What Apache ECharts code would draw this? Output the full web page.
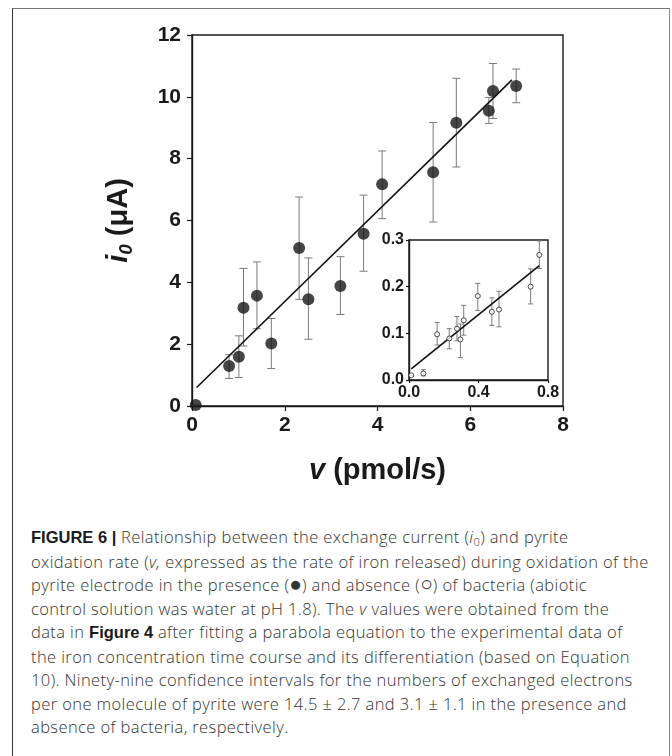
<!DOCTYPE html>
<html>
<head>
<meta charset="utf-8">
<script src="https://cdn.jsdelivr.net/npm/echarts@6/dist/echarts.min.js"></script>
<style>
  html, body { margin: 0; padding: 0; background: #fff; }
  body { width: 672px; height: 756px; position: relative; overflow: hidden; }
  #frame {
    position: absolute; left: 12px; top: 8px; width: 656px; height: 760px;
    border-left: 1.5px solid #333; border-top: 1px solid #777; border-right: 1px solid #888;
  }
  #chart { position: absolute; left: 0; top: 0; width: 672px; height: 505px; }
  #caption {
    position: absolute; left: 31px; top: 525px; width: 640px;
    font-family: "Open Sans", "Liberation Sans", Arial, sans-serif; font-weight: 300; font-size: 16.5px;
    letter-spacing: 0.4px; line-height: 23.5px; color: #333; white-space: nowrap;
  }
  #caption b { color: #1a1a1a; font-family: "Liberation Sans", Arial, sans-serif; font-weight: bold; letter-spacing: 0; }
  #caption sub { font-size: 11px; line-height: 0; vertical-align: -3px; }
  #caption .sym { font-family: "DejaVu Sans", sans-serif; font-size: 21px; line-height: 0; letter-spacing: 0; }
</style>
</head>
<body>
<div id="frame"></div>
<div id="chart"></div>
<div id="caption">
<b>FIGURE 6 |</b> Relationship between the exchange current (<i>i</i><sub>0</sub>) and pyrite<br>
oxidation rate (<i>v,</i> expressed as the rate of iron released) during oxidation of the<br>
pyrite electrode in the presence (<span class="sym">●</span>) and absence (<span class="sym">○</span>) of bacteria (abiotic<br>
control solution was water at pH 1.8). The <i>v</i> values were obtained from the<br>
data in <b>Figure 4</b> after fitting a parabola equation to the experimental data of<br>
the iron concentration time course and its differentiation (based on Equation<br>
10). Ninety-nine confidence intervals for the numbers of exchanged electrons<br>
per one molecule of pyrite were 14.5 ± 2.7 and 3.1 ± 1.1 in the presence and<br>
absence of bacteria, respectively.
</div>
<script>
// 有细菌 (实心点)
var mainV = [0.08, 0.80, 1.01, 1.11, 1.40, 1.71, 2.31, 2.51, 3.20, 3.70, 4.10, 5.20, 5.70, 6.40, 6.49, 6.99]
var mainI = [0.03, 1.29, 1.59, 3.18, 3.57, 2.02, 5.11, 3.45, 3.88, 5.57, 7.17, 7.56, 9.16, 9.55, 10.19, 10.35]
var mainLo = [0.03, 0.89, 0.92, 1.94, 2.50, 1.21, 3.45, 2.16, 2.96, 4.36, 6.06, 5.95, 7.73, 9.14, 9.30, 9.81]
var mainHi = [0.03, 1.66, 2.27, 4.45, 4.66, 2.83, 6.76, 4.79, 4.83, 6.82, 8.25, 9.17, 10.60, 9.98, 11.08, 10.90]
var mainFitV = [0.1, 6.9]
var mainFitI = [0.6, 10.55]

// 无细菌 (空心点, 小图)
var insetV = [0.013, 0.083, 0.162, 0.232, 0.276, 0.296, 0.315, 0.396, 0.477, 0.518, 0.700, 0.750]
var insetI = [0.010, 0.014, 0.098, 0.089, 0.110, 0.087, 0.128, 0.180, 0.146, 0.151, 0.200, 0.268]
var insetLo = [0.010, 0.009, 0.075, 0.067, 0.084, 0.048, 0.096, 0.149, 0.117, 0.114, 0.163, 0.239]
var insetHi = [0.010, 0.022, 0.123, 0.110, 0.136, 0.120, 0.160, 0.207, 0.176, 0.190, 0.238, 0.298]
var insetFitV = [0.013, 0.75]
var insetFitI = [0.024, 0.245]

// 坐标轴刻度
var mainXTicks = [0, 8, 2]
var mainYTicks = [0, 12, 2]
var insetXTicks = [0, 0.8, 0.4]
var insetYTicks = [0, 0.3, 0.1]

function pairs (xs, ys) {
  return xs.map(function (x, i) { return [x, ys[i]] })
}
function triples (xs, lo, hi) {
  return xs.map(function (x, i) { return [x, lo[i], hi[i]] })
}

// 误差棒
function errorBar (capHalf) {
  return function (params, api) {
    var x = api.value(0)
    var lo = api.coord([x, api.value(1)])
    var hi = api.coord([x, api.value(2)])
    var style = { stroke: '#7a7a7a', lineWidth: 1 }
    return {
      type: 'group',
      children: [
        { type: 'line', shape: { x1: lo[0], y1: lo[1], x2: hi[0], y2: hi[1] }, style: style },
        { type: 'line', shape: { x1: hi[0] - capHalf, y1: hi[1], x2: hi[0] + capHalf, y2: hi[1] }, style: style },
        { type: 'line', shape: { x1: lo[0] - capHalf, y1: lo[1], x2: lo[0] + capHalf, y2: lo[1] }, style: style }
      ]
    }
  }
}

var fontFam = '"Liberation Sans", Arial, sans-serif'

function axis (ticks, idx, labelSize, margin, decimals, extra) {
  var a = {
    type: 'value',
    gridIndex: idx,
    min: ticks[0],
    max: ticks[1],
    interval: ticks[2],
    splitLine: { show: false },
    axisLine: { show: true, onZero: false, lineStyle: { color: '#1a1a1a', width: 1.4 } },
    axisTick: { show: true, inside: false, length: idx === 0 ? 5 : 3, lineStyle: { color: '#1a1a1a', width: 1.2 } },
    axisLabel: {
      show: true,
      margin: margin,
      color: '#1a1a1a',
      fontFamily: fontFam,
      fontWeight: 'bold',
      fontSize: labelSize,
      formatter: function (v) { return decimals ? v.toFixed(decimals) : String(v) }
    }
  }
  return Object.assign(a, extra || {})
}

var chart = echarts.init(document.getElementById('chart'))
chart.setOption({
  animation: false,
  backgroundColor: 'transparent',
  grid: [
    { left: 192, top: 35, width: 371, height: 371, show: true, borderColor: '#1a1a1a', borderWidth: 1.4, backgroundColor: 'transparent' },
    { left: 409, top: 240, width: 139, height: 140, show: true, borderColor: '#1a1a1a', borderWidth: 1.4, backgroundColor: '#fff' }
  ],
  xAxis: [
    axis(mainXTicks, 0, 21, 9, 0, {
      name: '{i|v} (pmol/s)',
      nameLocation: 'middle',
      nameGap: 50,
      nameTextStyle: {
        color: '#1a1a1a', fontFamily: fontFam, fontWeight: 'bold', fontSize: 29, verticalAlign: 'top',
        rich: { i: { fontStyle: 'italic', fontWeight: 'bold', fontSize: 29, fontFamily: fontFam, color: '#1a1a1a' } }
      }
    }),
    axis(insetXTicks, 1, 16, 5, 1)
  ],
  yAxis: [
    axis(mainYTicks, 0, 21, 11, 0, {
      name: '{i|i}{s|0} (μA)',
      nameLocation: 'middle',
      nameGap: 56,
      nameTextStyle: {
        color: '#1a1a1a', fontFamily: fontFam, fontWeight: 'bold', fontSize: 29,
        rich: {
          i: { fontStyle: 'italic', fontWeight: 'bold', fontSize: 29, fontFamily: fontFam, color: '#1a1a1a', lineHeight: 34 },
          s: { fontStyle: 'italic', fontWeight: 'bold', fontSize: 19, fontFamily: fontFam, color: '#1a1a1a', lineHeight: 20, verticalAlign: 'bottom' }
        }
      }
    }),
    axis(insetYTicks, 1, 16, 5, 1)
  ],
  series: [
    {
      type: 'custom',
      xAxisIndex: 0,
      yAxisIndex: 0,
      renderItem: errorBar(4),
      data: triples(mainV, mainLo, mainHi),
      z: 2
    },
    {
      type: 'line',
      xAxisIndex: 0,
      yAxisIndex: 0,
      data: pairs(mainFitV, mainFitI),
      showSymbol: false,
      lineStyle: { color: '#111', width: 1.6 },
      z: 3
    },
    {
      type: 'scatter',
      xAxisIndex: 0,
      yAxisIndex: 0,
      data: pairs(mainV, mainI),
      symbol: 'circle',
      symbolSize: 12,
      itemStyle: { color: '#161616' },
      z: 4
    },
    {
      type: 'custom',
      xAxisIndex: 1,
      yAxisIndex: 1,
      renderItem: errorBar(2.5),
      data: triples(insetV, insetLo, insetHi),
      z: 6
    },
    {
      type: 'line',
      xAxisIndex: 1,
      yAxisIndex: 1,
      data: pairs(insetFitV, insetFitI),
      showSymbol: false,
      lineStyle: { color: '#111', width: 1.6 },
      z: 7
    },
    {
      type: 'scatter',
      xAxisIndex: 1,
      yAxisIndex: 1,
      data: pairs(insetV, insetI),
      symbol: 'circle',
      symbolSize: 5,
      itemStyle: { color: '#fff', borderColor: '#222', borderWidth: 1 },
      z: 8
    }
  ]
})
</script>
</body>
</html>
